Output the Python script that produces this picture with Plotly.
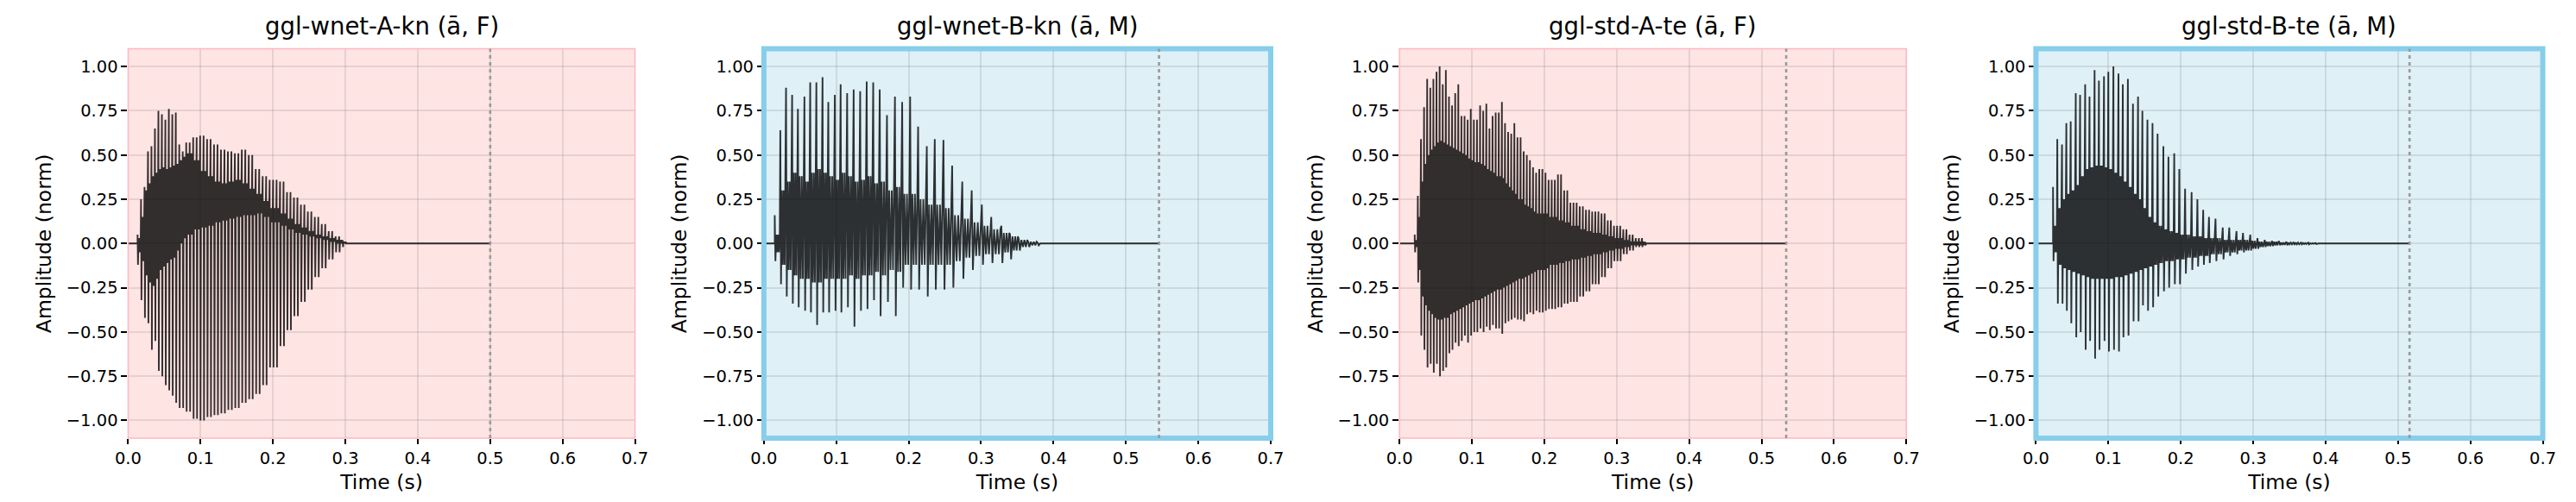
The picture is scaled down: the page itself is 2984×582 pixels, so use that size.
import numpy as np
import plotly.graph_objects as go

# ---------------- data ----------------
TITLES = ["ggl-wnet-A-kn (ā, F)", "ggl-wnet-B-kn (ā, M)",
          "ggl-std-A-te (ā, F)", "ggl-std-B-te (ā, M)"]
SPEAKER_GROUP = ["A", "B", "A", "B"]
END_TIMES = [0.500, 0.5457, 0.534, 0.516]          # dotted line = clip length (s)

X_TICKS = [0.0, 0.1, 0.2, 0.3, 0.4, 0.5, 0.6, 0.7]
X_TICK_TEXT = ["0.0", "0.1", "0.2", "0.3", "0.4", "0.5", "0.6", "0.7"]
Y_TICKS = [1.0, 0.75, 0.5, 0.25, 0.0, -0.25, -0.5, -0.75, -1.0]
Y_TICK_TEXT = ["1.00", "0.75", "0.50", "0.25", "0.00", "−0.25", "−0.50", "−0.75", "−1.00"]

# Panel 1 (ggl-wnet-A-kn): envelope readings + pitch period
periodA = 0.0048
tA = [0.013, 0.017, 0.022, 0.026, 0.030, 0.035, 0.040, 0.045, 0.050, 0.055,
      0.060, 0.065, 0.070, 0.075, 0.080, 0.090, 0.100, 0.110, 0.120, 0.130,
      0.140, 0.150, 0.160, 0.170, 0.180, 0.190, 0.200, 0.210, 0.220, 0.230,
      0.240, 0.250, 0.260, 0.270, 0.280, 0.290, 0.300]
hiA = [0.05, 0.25, 0.32, 0.52, 0.55, 0.65, 0.75, 0.73, 0.70, 0.76,
       0.73, 0.74, 0.56, 0.52, 0.57, 0.60, 0.61, 0.59, 0.56, 0.53,
       0.52, 0.51, 0.53, 0.50, 0.42, 0.38, 0.36, 0.35, 0.29, 0.26,
       0.22, 0.18, 0.15, 0.11, 0.07, 0.04, 0.02]
loA = [-0.12, -0.32, -0.42, -0.45, -0.60, -0.55, -0.72, -0.75, -0.80, -0.83,
       -0.86, -0.90, -0.93, -0.93, -0.95, -0.99, -1.00, -0.98, -0.97, -0.96,
       -0.94, -0.93, -0.90, -0.88, -0.85, -0.80, -0.70, -0.58, -0.49, -0.41,
       -0.33, -0.26, -0.19, -0.14, -0.09, -0.05, -0.02]
coreHiA = [0.03, 0.15, 0.30, 0.34, 0.38, 0.40, 0.42, 0.43, 0.42, 0.43,
           0.44, 0.45, 0.47, 0.49, 0.51, 0.47, 0.41, 0.38, 0.35, 0.34,
           0.35, 0.36, 0.34, 0.31, 0.28, 0.24, 0.20, 0.17, 0.14, 0.11,
           0.09, 0.07, 0.05, 0.04, 0.03, 0.02, 0.01]
coreLoA = [-0.05, -0.10, -0.18, -0.22, -0.24, -0.20, -0.15, -0.13, -0.11, -0.09,
           -0.08, -0.04, 0.00, 0.03, 0.05, 0.08, 0.09, 0.10, 0.12, 0.13,
           0.14, 0.15, 0.16, 0.16, 0.17, 0.15, 0.12, 0.10, 0.08, 0.06,
           0.05, 0.04, 0.03, 0.02, 0.01, 0.00, 0.00]

# Panel 2 (ggl-wnet-B-kn): individual glottal pulses
tB = [0.015, 0.0227, 0.0306, 0.039, 0.047, 0.056, 0.064, 0.0725, 0.081, 0.089,
      0.098, 0.106, 0.115, 0.124, 0.133, 0.142, 0.151, 0.160, 0.170, 0.181,
      0.191, 0.202, 0.213, 0.225, 0.236, 0.248, 0.260, 0.274, 0.287, 0.301,
      0.314, 0.328, 0.340, 0.352, 0.365, 0.378]
hiB = [0.16, 0.64, 0.88, 0.84, 0.76, 0.83, 0.91, 0.91, 0.94, 0.80,
       0.84, 0.90, 0.85, 0.87, 0.86, 0.915, 0.91, 0.87, 0.725, 0.83,
       0.80, 0.83, 0.66, 0.55, 0.59, 0.585, 0.44, 0.35, 0.30, 0.22,
       0.15, 0.10, 0.05, 0.025, 0.01, 0.005]
loB = [-0.10, -0.23, -0.30, -0.34, -0.36, -0.38, -0.39, -0.46, -0.39, -0.39,
       -0.38, -0.39, -0.36, -0.47, -0.38, -0.37, -0.32, -0.41, -0.33, -0.41,
       -0.25, -0.26, -0.26, -0.30, -0.26, -0.26, -0.25, -0.20, -0.15, -0.12,
       -0.11, -0.11, -0.09, -0.04, -0.02, -0.01]
coreHiB = [0.05, 0.30, 0.35, 0.40, 0.38, 0.35, 0.40, 0.42, 0.40, 0.38,
           0.36, 0.40, 0.38, 0.35, 0.36, 0.38, 0.34, 0.35, 0.30, 0.32,
           0.28, 0.28, 0.25, 0.22, 0.22, 0.20, 0.16, 0.14, 0.12, 0.10,
           0.08, 0.06, 0.04, 0.02, 0.01, 0.00]
coreLoB = [-0.05, -0.12, -0.15, -0.18, -0.20, -0.20, -0.22, -0.22, -0.20, -0.20,
           -0.20, -0.20, -0.18, -0.20, -0.18, -0.18, -0.16, -0.18, -0.15, -0.16,
           -0.12, -0.12, -0.12, -0.12, -0.12, -0.12, -0.10, -0.08, -0.07, -0.06,
           -0.06, -0.05, -0.04, -0.02, -0.01, 0.00]

# Panel 3 (ggl-std-A-te): envelope readings + pitch period
periodC = 0.0043
tC = [0.021, 0.026, 0.031, 0.035, 0.038, 0.043, 0.047, 0.052, 0.056, 0.060,
      0.065, 0.069, 0.074, 0.078, 0.082, 0.086, 0.090, 0.095, 0.100, 0.105,
      0.110, 0.115, 0.120, 0.125, 0.130, 0.135, 0.140, 0.145, 0.150, 0.155,
      0.160, 0.165, 0.170, 0.175, 0.180, 0.185, 0.190, 0.195, 0.200, 0.210,
      0.220, 0.230, 0.240, 0.250, 0.260, 0.270, 0.280, 0.290, 0.300, 0.310,
      0.320, 0.330, 0.340]
hiC = [0.05, 0.27, 0.59, 0.77, 0.93, 0.88, 0.93, 0.97, 1.00, 0.90,
       0.98, 0.83, 0.78, 0.85, 0.90, 0.72, 0.72, 0.70, 0.76, 0.70,
       0.78, 0.75, 0.79, 0.65, 0.72, 0.74, 0.80, 0.68, 0.63, 0.62,
       0.68, 0.60, 0.52, 0.50, 0.47, 0.43, 0.40, 0.42, 0.40, 0.36,
       0.39, 0.30, 0.23, 0.21, 0.19, 0.18, 0.17, 0.13, 0.10, 0.08,
       0.05, 0.03, 0.01]
loC = [-0.05, -0.22, -0.52, -0.60, -0.70, -0.68, -0.73, -0.68, -0.75, -0.72,
       -0.70, -0.62, -0.60, -0.56, -0.58, -0.55, -0.52, -0.56, -0.52, -0.50,
       -0.48, -0.50, -0.47, -0.49, -0.46, -0.48, -0.51, -0.45, -0.44, -0.43,
       -0.42, -0.43, -0.44, -0.40, -0.39, -0.40, -0.38, -0.39, -0.38, -0.37,
       -0.36, -0.34, -0.33, -0.30, -0.27, -0.23, -0.19, -0.14, -0.10, -0.06,
       -0.04, -0.02, -0.01]
coreHiC = [0.02, 0.15, 0.35, 0.45, 0.50, 0.53, 0.55, 0.57, 0.58, 0.57,
           0.56, 0.55, 0.54, 0.53, 0.52, 0.51, 0.50, 0.48, 0.47, 0.46,
           0.45, 0.44, 0.42, 0.41, 0.40, 0.38, 0.37, 0.34, 0.32, 0.30,
           0.28, 0.25, 0.22, 0.21, 0.20, 0.18, 0.17, 0.17, 0.17, 0.15,
           0.13, 0.12, 0.10, 0.08, 0.07, 0.06, 0.05, 0.04, 0.03, 0.02,
           0.01, 0.01, 0.00]
coreLoC = [-0.02, -0.15, -0.30, -0.35, -0.38, -0.40, -0.42, -0.43, -0.43, -0.42,
           -0.42, -0.40, -0.39, -0.38, -0.37, -0.36, -0.35, -0.34, -0.33, -0.32,
           -0.31, -0.30, -0.29, -0.28, -0.27, -0.26, -0.25, -0.24, -0.23, -0.22,
           -0.21, -0.20, -0.19, -0.18, -0.17, -0.16, -0.15, -0.15, -0.14, -0.12,
           -0.11, -0.10, -0.09, -0.08, -0.07, -0.06, -0.05, -0.04, -0.03, -0.02,
           -0.01, -0.01, 0.00]

# Panel 4 (ggl-std-B-te): individual glottal pulses
tD = [0.0236, 0.0295, 0.036, 0.042, 0.048, 0.055, 0.061, 0.068, 0.074, 0.081,
      0.087, 0.094, 0.100, 0.107, 0.114, 0.120, 0.127, 0.134, 0.141, 0.147,
      0.154, 0.161, 0.168, 0.176, 0.183, 0.191, 0.198, 0.206, 0.215, 0.223,
      0.231, 0.239, 0.248, 0.258, 0.267, 0.277, 0.286, 0.296, 0.306, 0.316,
      0.326, 0.336, 0.346, 0.356, 0.366, 0.376, 0.386]
hiD = [0.32, 0.59, 0.56, 0.68, 0.69, 0.85, 0.84, 0.90, 0.83, 0.98,
       0.92, 0.945, 0.97, 1.00, 0.96, 0.90, 0.93, 0.79, 0.83, 0.75,
       0.70, 0.68, 0.62, 0.55, 0.49, 0.51, 0.42, 0.31, 0.29, 0.25,
       0.19, 0.15, 0.14, 0.09, 0.09, 0.07, 0.06, 0.05, 0.03, 0.02,
       0.015, 0.01, 0.01, 0.008, 0.005, 0.005, 0.003]
loD = [-0.10, -0.34, -0.34, -0.38, -0.45, -0.53, -0.50, -0.60, -0.55, -0.65,
       -0.60, -0.55, -0.61, -0.60, -0.61, -0.53, -0.52, -0.44, -0.44, -0.35,
       -0.38, -0.36, -0.30, -0.27, -0.25, -0.23, -0.23, -0.17, -0.15, -0.13,
       -0.12, -0.11, -0.10, -0.09, -0.07, -0.06, -0.05, -0.04, -0.03, -0.02,
       -0.015, -0.01, -0.01, -0.008, -0.005, -0.005, -0.003]
coreHiD = [0.10, 0.20, 0.25, 0.28, 0.30, 0.33, 0.38, 0.42, 0.43, 0.44,
           0.44, 0.43, 0.42, 0.40, 0.38, 0.35, 0.32, 0.28, 0.25, 0.20,
           0.15, 0.12, 0.10, 0.08, 0.07, 0.06, 0.05, 0.05, 0.04, 0.04,
           0.03, 0.03, 0.03, 0.02, 0.02, 0.02, 0.02, 0.015, 0.01, 0.01,
           0.01, 0.005, 0.005, 0.005, 0.003, 0.002, 0.0]
coreLoD = [-0.05, -0.12, -0.14, -0.15, -0.16, -0.17, -0.18, -0.19, -0.20, -0.20,
           -0.20, -0.20, -0.20, -0.19, -0.19, -0.18, -0.17, -0.16, -0.15, -0.14,
           -0.13, -0.12, -0.11, -0.10, -0.10, -0.09, -0.09, -0.08, -0.08, -0.07,
           -0.07, -0.06, -0.06, -0.05, -0.05, -0.04, -0.04, -0.03, -0.02, -0.015,
           -0.01, -0.008, -0.005, -0.005, -0.003, -0.002, 0.0]

# ---------------- waveform assembly from the readings ----------------
# order of extremes drawn within one glottal period and where they sit in it
PULSE_FRACS = [0.0, 0.12, 0.28, 0.44, 0.60, 0.76, 0.90]


def pulses_from_envelope(t_env, hi, lo, chi, clo, period):
    """one pulse per pitch period, each taking the nearest envelope reading"""
    t_env = np.asarray(t_env)
    pt, ph, pl, pch, pcl = [], [], [], [], []
    t = t_env[0]
    while t <= t_env[-1] + 1e-9:
        i = int(np.argmin(np.abs(t_env - t)))
        pt.append(t); ph.append(hi[i]); pl.append(lo[i])
        pch.append(chi[i]); pcl.append(clo[i])
        t += period
    return pt, ph, pl, pch, pcl


def assemble(pt, hi, lo, chi, clo, t_end):
    xs, ys = [0.0, pt[0]], [0.0, 0.0]
    n = len(pt)
    T = pt[1] - pt[0]
    for i in range(n):
        if i < n - 1:
            T = pt[i + 1] - pt[i]
        vals = [hi[i], lo[i], chi[i], clo[i], chi[i], clo[i], chi[i]]
        for f, v in zip(PULSE_FRACS, vals):
            xs.append(pt[i] + f * T)
            ys.append(v)
    xs += [pt[-1] + T, t_end]
    ys += [0.0, 0.0]
    return xs, ys


waves = [
    assemble(*pulses_from_envelope(tA, hiA, loA, coreHiA, coreLoA, periodA), END_TIMES[0]),
    assemble(tB, hiB, loB, coreHiB, coreLoB, END_TIMES[1]),
    assemble(*pulses_from_envelope(tC, hiC, loC, coreHiC, coreLoC, periodC), END_TIMES[2]),
    assemble(tD, hiD, loD, coreHiD, coreLoD, END_TIMES[3]),
]

# ---------------- styling / layout ----------------
W, H = 2984, 582
FONT = "DejaVu Sans"
PANEL_LEFT = [125.8, 870.2, 1614.5, 2359.7]
PANEL_W = 593.5
PLOT_TOP, PLOT_BOT = 48.6, 500.0
THEME = {
    "A": dict(bg="#FFE4E4", border="#FFB6C1", bw=1.5),
    "B": dict(bg="#DFF0F7", border="#87CEEB", bw=6),
}

fig = go.Figure()
shapes, annotations = [], []
ydom = [1 - PLOT_BOT / H, 1 - PLOT_TOP / H]

for k in range(4):
    ax = "" if k == 0 else str(k + 1)
    xs, ys = waves[k]
    fig.add_trace(go.Scatter(
        x=xs, y=ys, mode="lines", xaxis="x" + ax, yaxis="y" + ax,
        line=dict(color="rgba(0,0,0,0.8)", width=1.9),
        hoverinfo="skip", showlegend=False))

    xdom = [PANEL_LEFT[k] / W, (PANEL_LEFT[k] + PANEL_W) / W]
    fig.layout["xaxis" + ax] = dict(
        domain=xdom, anchor="y" + ax, range=[0, 0.7],
        tickvals=X_TICKS, ticktext=X_TICK_TEXT,
        ticks="outside", ticklen=6, tickwidth=1.5, tickcolor="black",
        showgrid=True, gridcolor="rgba(128,128,128,0.2)", gridwidth=1.5,
        zeroline=False, showline=False,
        tickfont=dict(family=FONT, size=19.5, color="black"),
        title=dict(text="Time (s)", standoff=8,
                   font=dict(family=FONT, size=23.5, color="black")))
    fig.layout["yaxis" + ax] = dict(
        domain=ydom, anchor="x" + ax, range=[-1.1, 1.1],
        tickvals=Y_TICKS, ticktext=Y_TICK_TEXT,
        ticks="outside", ticklen=7, tickwidth=1.5, tickcolor="black",
        showgrid=True, gridcolor="rgba(128,128,128,0.2)", gridwidth=1.5,
        zeroline=False, showline=False,
        tickfont=dict(family=FONT, size=19.5, color="black"),
        title=dict(text="Amplitude (norm)", standoff=10,
                   font=dict(family=FONT, size=23.5, color="black")))

    th = THEME[SPEAKER_GROUP[k]]
    xr, yr = "x" + ax + " domain", "y" + ax + " domain"
    shapes.append(dict(type="rect", xref=xr, yref=yr, x0=0, x1=1, y0=0, y1=1,
                       fillcolor=th["bg"], line=dict(width=0), layer="below"))
    shapes.append(dict(type="rect", xref=xr, yref=yr, x0=0, x1=1, y0=0, y1=1,
                       fillcolor="rgba(0,0,0,0)",
                       line=dict(color=th["border"], width=th["bw"]), layer="above"))
    shapes.append(dict(type="line", xref="x" + ax, yref=yr,
                       x0=END_TIMES[k], x1=END_TIMES[k], y0=0, y1=1,
                       line=dict(color="#999999", width=2.6, dash="4px,4px"),
                       layer="above"))
    annotations.append(dict(text=TITLES[k], xref="paper", yref="paper",
                            x=(xdom[0] + xdom[1]) / 2, y=1 - 40 / H,
                            xanchor="center", yanchor="bottom", showarrow=False,
                            font=dict(family=FONT, size=27.5, color="black")))

fig.update_layout(
    width=W, height=H, margin=dict(l=0, r=0, t=0, b=0),
    paper_bgcolor="white", plot_bgcolor="rgba(0,0,0,0)",
    shapes=shapes, annotations=annotations, showlegend=False,
    font=dict(family=FONT, color="black"))

fig.write_html("out.html")
